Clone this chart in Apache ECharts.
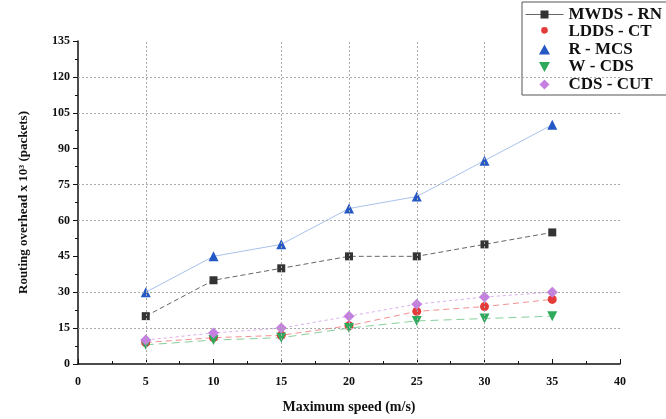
<!DOCTYPE html>
<html><head><meta charset="utf-8">
<script src="https://cdn.jsdelivr.net/npm/echarts@6/dist/echarts.min.js"></script>
<style>html,body{margin:0;padding:0;background:#fff}#c{width:666px;height:419px}</style>
</head><body><div id="c"></div>
<script>
const speeds = [5, 10, 15, 20, 25, 30, 35];
const mwdsRn = [20, 35, 40, 45, 45, 50, 55];
const lddsCt = [9, 11, 12, 16, 22, 24, 27];
const rMcs = [30, 45, 50, 65, 70, 85, 100];
const wCds = [8, 10, 11, 15, 18, 19, 20];
const cdsCut = [10, 13, 15, 20, 25, 28, 30];
const hGrid = [15, 30, 60, 75, 105, 120];
const vGrid = [5, 15, 20, 25, 30];

const font = 'Liberation Serif';
function pairs(v){ return speeds.map((s,i)=>[s, v[i]]); }
const gridLine = {type:[2,2], color:'#aaa', width:1};
const pad = ' M0,5 L0.01,5 M38,5 L38.01,5';
const chart = echarts.init(document.getElementById('c'));
chart.setOption({
  animation:false,
  backgroundColor:'#fff',
  grid:{left:78, right:46, top:41, bottom:55},
  xAxis:{type:'value', min:0, max:40, interval:5,
    name:'Maximum speed (m/s)', nameLocation:'middle', nameGap:36,
    nameTextStyle:{fontFamily:font, fontWeight:'bold', fontSize:14, color:'#111'},
    axisLine:{lineStyle:{color:'#111', width:1.5}},
    axisTick:{inside:true, length:5, lineStyle:{color:'#111'}},
    minorTick:{show:true, splitNumber:2, length:3, lineStyle:{color:'#111'}},
    axisLabel:{fontFamily:font, fontWeight:'bold', fontSize:12, color:'#111', margin:12},
    splitLine:{show:false}},
  yAxis:{type:'value', min:0, max:135, interval:15,
    name:'Routing overhead x 10\u00b3 (packets)', nameLocation:'middle', nameGap:48,
    nameTextStyle:{fontFamily:font, fontWeight:'bold', fontSize:13, color:'#111'},
    axisLine:{show:true, lineStyle:{color:'#111', width:1.5}},
    axisTick:{show:true, length:5, lineStyle:{color:'#111'}},
    minorTick:{show:true, splitNumber:2, length:3, lineStyle:{color:'#111'}},
    axisLabel:{fontFamily:font, fontWeight:'bold', fontSize:12, color:'#111', margin:8},
    splitLine:{show:false}},
  legend:{
    left:522, top:2, orient:'vertical', itemGap:0.5, itemWidth:38, itemHeight:10,
    padding:[4,40,2,3],
    backgroundColor:'#fff', borderColor:'#555', borderWidth:1,
    textStyle:{fontFamily:font, fontWeight:'bold', fontSize:17, lineHeight:17, color:'#111'},
    lineStyle:{type:'solid', width:1},
    data:[
      {name:'MWDS - RN'},
      {name:'LDDS - CT', icon:'path://M19,0 A5,5 0 1,1 19.01,0 Z' + pad},
      {name:'R - MCS', icon:'path://M19,0 L24.5,10 L13.5,10 Z' + pad},
      {name:'W - CDS', icon:'path://M13.5,0 L24.5,0 L19,10 Z' + pad},
      {name:'CDS - CUT', icon:'path://M19,-0.5 L24.5,5 L19,10.5 L13.5,5 Z' + pad}
    ]
  },
  series:[
    {name:'grid', type:'line', data:[], silent:true,
      markLine:{symbol:'none', silent:true, label:{show:false}, lineStyle:gridLine,
        data: hGrid.map(v=>({yAxis:v})).concat(vGrid.map(v=>({xAxis:v})))}},
    {name:'MWDS - RN', type:'line', data:pairs(mwdsRn), symbol:'rect', symbolSize:8,
      itemStyle:{color:'#333'}, lineStyle:{color:'#666', width:1, type:[5,3]}, z:3},
    {name:'LDDS - CT', type:'line', data:pairs(lddsCt), symbol:'circle', symbolSize:9,
      itemStyle:{color:'#e53a3a'}, lineStyle:{color:'#f29090', width:1, type:[6,4]}, z:3},
    {name:'R - MCS', type:'line', data:pairs(rMcs), symbol:'triangle', symbolSize:10,
      itemStyle:{color:'#2458c4'}, lineStyle:{color:'#a9c2ec', width:1}, z:3},
    {name:'W - CDS', type:'line', data:pairs(wCds), symbol:'triangle', symbolRotate:180, symbolSize:10,
      itemStyle:{color:'#2eaa5a'}, lineStyle:{color:'#86d09c', width:1, type:[8,5]}, z:3},
    {name:'CDS - CUT', type:'line', data:pairs(cdsCut), symbol:'diamond', symbolSize:11,
      itemStyle:{color:'#c57fe0'}, lineStyle:{color:'#dcaeee', width:1, type:[3,3]}, z:4}
  ]
});
</script></body></html>
